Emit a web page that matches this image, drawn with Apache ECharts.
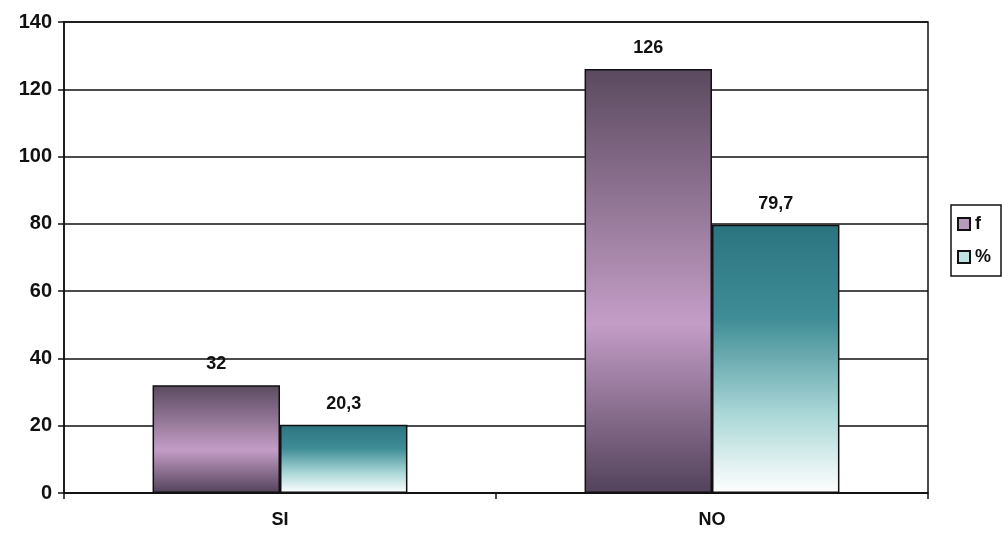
<!DOCTYPE html>
<html><head><meta charset="utf-8">
<script src="https://cdn.jsdelivr.net/npm/echarts@6/dist/echarts.min.js"></script>
<style>html,body{margin:0;padding:0;background:#fff}#c{width:1002px;height:533px}</style>
</head><body><div id="c"></div>
<script>
var categories = ['SI', 'NO'];
var fValues = [32, 126];
var pctValues = [20.3, 79.7];
var seriesNames = ['f', '%'];

var chart = echarts.init(document.getElementById('c'));
var fGrad = new echarts.graphic.LinearGradient(0, 0, 0, 1, [
  {offset: 0, color: '#5a4a5e'},
  {offset: 0.6, color: '#c49dc7'},
  {offset: 1, color: '#52425a'}
]);
var pGrad = new echarts.graphic.LinearGradient(0, 0, 0, 1, [
  {offset: 0, color: '#2a7480'},
  {offset: 0.35, color: '#3f8d96'},
  {offset: 0.7, color: '#a9d6d6'},
  {offset: 1, color: '#ffffff'}
]);
var labelStyle = {
  show: true, position: 'top', distance: 12,
  fontFamily: 'Liberation Sans', fontWeight: 'bold', fontSize: 18, color: '#111',
  formatter: function (p) { return String(p.value).replace('.', ','); }
};
chart.setOption({
  animation: false,
  grid: {left: 64, right: 74, top: 22, bottom: 40, show: true, borderColor: '#111', borderWidth: 1.5},
  legend: {
    orient: 'vertical', left: 951, top: 205, itemWidth: 12, itemHeight: 12, itemGap: 15,
    padding: [10, 10, 10, 6], borderColor: '#111', borderWidth: 1.5,
    icon: 'rect',
    textStyle: {fontFamily: 'Liberation Sans', fontWeight: 'bold', fontSize: 18, color: '#111'},
    data: [
      {name: seriesNames[0], itemStyle: {color: '#b79bbb', borderColor: '#111', borderWidth: 2}},
      {name: seriesNames[1], itemStyle: {color: '#bfe3e0', borderColor: '#111', borderWidth: 2}}
    ]
  },
  xAxis: {
    type: 'category', data: categories,
    axisLine: {lineStyle: {color: '#111', width: 1.5}},
    axisTick: {show: true, length: 6, lineStyle: {color: '#111', width: 1.5}},
    axisLabel: {margin: 18, fontFamily: 'Liberation Sans', fontWeight: 'bold', fontSize: 18, color: '#111'}
  },
  yAxis: {
    type: 'value', min: 0, max: 140, interval: 20,
    axisLine: {show: true, lineStyle: {color: '#111', width: 1.5}},
    axisTick: {show: true, length: 6, lineStyle: {color: '#111', width: 1.5}},
    splitLine: {lineStyle: {color: '#111', width: 1.5}},
    axisLabel: {margin: 12, fontFamily: 'Liberation Sans', fontWeight: 'bold', fontSize: 20, color: '#111'}
  },
  series: [
    {name: seriesNames[0], type: 'bar', data: fValues, barGap: '0%', barCategoryGap: '41%',
     itemStyle: {color: fGrad, borderColor: '#111', borderWidth: 1.5}, label: labelStyle},
    {name: seriesNames[1], type: 'bar', data: pctValues,
     itemStyle: {color: pGrad, borderColor: '#111', borderWidth: 1.5}, label: labelStyle}
  ]
});
</script></body></html>
